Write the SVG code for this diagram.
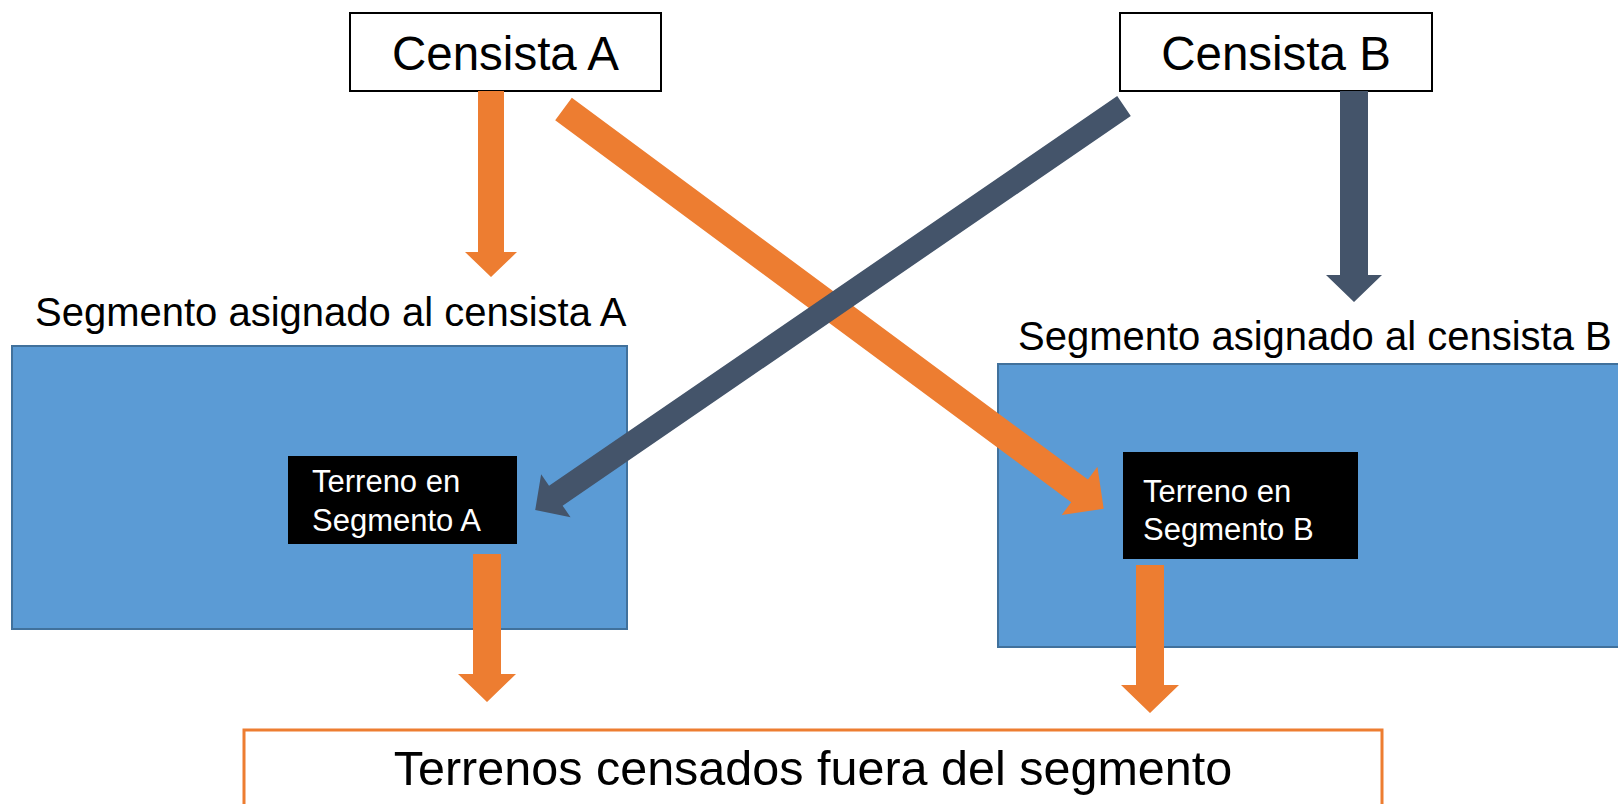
<svg xmlns="http://www.w3.org/2000/svg" width="1618" height="804" viewBox="0 0 1618 804">
<style>
text{font-family:"Liberation Sans",Arial,sans-serif;}
.big{font-size:47.5px;fill:#000;}
.lbl{font-size:40px;fill:#000;}
.small{font-size:31px;fill:#fff;}
.seg{fill:#5B9BD5;stroke:#41719C;stroke-width:2;}
.box{fill:#fff;stroke:#000;stroke-width:2;}
.blk{fill:#000;}
.or{fill:#ED7D31;}
.dk{fill:#44546A;}
</style>
<rect width="1618" height="804" fill="#fff"/>
<g id="segA">
<rect class="seg" x="12" y="346" width="615" height="283"/>
<text class="lbl" x="35" y="326">Segmento asignado al censista A</text>
</g>
<g id="segB">
<rect class="seg" x="998" y="364" width="640" height="283"/>
<text class="lbl" x="1018" y="350">Segmento asignado al censista B</text>
</g>
<g id="censistaA">
<rect class="box" x="350" y="13" width="311" height="78"/>
<text class="big" x="505.5" y="69.5" text-anchor="middle">Censista A</text>
</g>
<g id="censistaB">
<rect class="box" x="1120" y="13" width="312" height="78"/>
<text class="big" x="1276" y="69.5" text-anchor="middle">Censista B</text>
</g>
<g id="terrenoA">
<rect class="blk" x="288" y="456" width="229" height="88"/>
<text class="small" x="312" y="492">Terreno en</text>
<text class="small" x="312" y="531">Segmento A</text>
</g>
<g id="terrenoB">
<rect class="blk" x="1123" y="452" width="235" height="107"/>
<text class="small" x="1143" y="502">Terreno en</text>
<text class="small" x="1143" y="540">Segmento B</text>
</g>
<g id="fuera">
<rect x="244" y="730" width="1138" height="120" fill="#fff" stroke="#ED7D31" stroke-width="3"/>
<text x="813" y="785" text-anchor="middle" font-size="48.5">Terrenos censados fuera del segmento</text>
</g>
<g id="connectors">
<polygon class="or" points="478,91 504,91 504,252 517,252 491,277 465,252 478,252"/>
<polygon class="dk" points="1340,91 1368,91 1368,275 1382,275 1354,302 1326,275 1340,275"/>
<polygon class="or" transform="translate(563.5,109) rotate(36.5)" points="0,-14 642,-14 642,-30 672,0 642,30 642,14 0,14"/>
<polygon class="dk" transform="translate(1124,106) rotate(145.55)" points="0,-12 689,-12 689,-26 714,0 689,26 689,12 0,12"/>
<polygon class="or" points="473,554 501,554 501,674 516,674 487,702 458,674 473,674"/>
<polygon class="or" points="1136,565 1164,565 1164,685 1179,685 1150,713 1121,685 1136,685"/>
</g>
</svg>
